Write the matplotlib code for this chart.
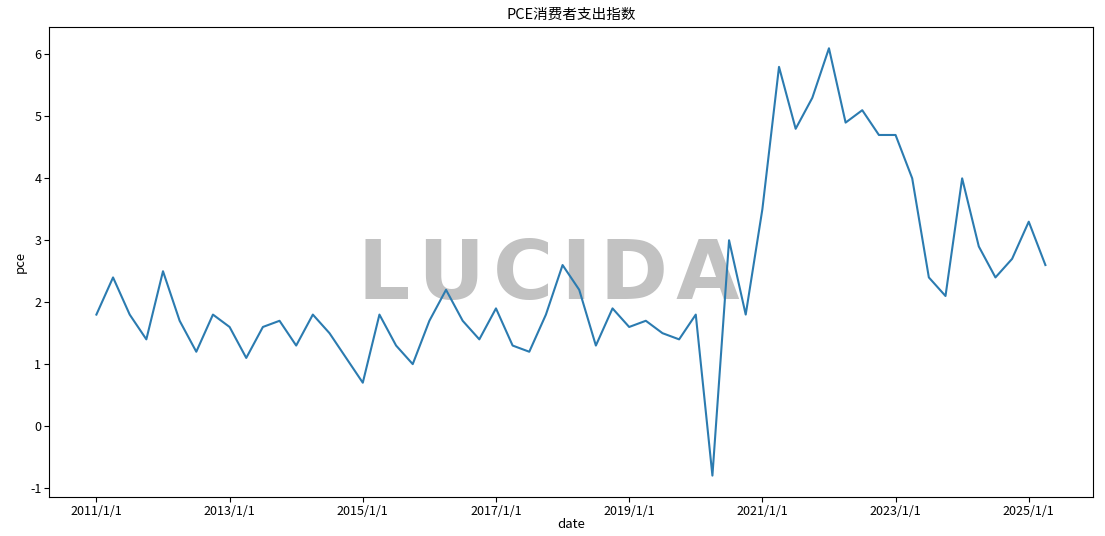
import matplotlib.pyplot as plt
import numpy as np

plt.rcParams['font.family'] = ['Noto Sans CJK SC', 'DejaVu Sans']
plt.rcParams['axes.unicode_minus'] = False

# quarterly PCE values, 2011Q1 .. 2025Q2
pce = [1.8, 2.4, 1.8, 1.4, 2.5, 1.7, 1.2, 1.8,
       1.6, 1.1, 1.6, 1.7, 1.3, 1.8, 1.5, 1.1,
       0.7, 1.8, 1.3, 1.0, 1.7, 2.2, 1.7, 1.4,
       1.9, 1.3, 1.2, 1.8, 2.6, 2.2, 1.3, 1.9,
       1.6, 1.7, 1.5, 1.4, 1.8, -0.8, 3.0, 1.8,
       3.5, 5.8, 4.8, 5.3, 6.1, 4.9, 5.1, 4.7,
       4.7, 4.0, 2.4, 2.1, 4.0, 2.9, 2.4, 2.7,
       3.3, 2.6]
tick_labels = ['2011/1/1', '2013/1/1', '2015/1/1', '2017/1/1',
               '2019/1/1', '2021/1/1', '2023/1/1', '2025/1/1']

x = np.arange(len(pce))

fig = plt.figure(figsize=(11.05, 5.36), dpi=100)
ax = fig.add_axes([0.0443, 0.0728, 0.9447, 0.877])

# watermark, spaced a little so it spans like the original
ax.text(0.479, 0.47, '\u200a'.join('LUCIDA'), transform=ax.transAxes,
        ha='center', va='center', fontsize=59, fontweight='bold',
        color='#c2c2c2', family='DejaVu Sans', zorder=1)
ax.plot(x, pce, color='#2b7bb0', linewidth=1.5, zorder=2)

ax.set_xticks(x[::8])
ax.set_xticklabels(tick_labels)
ax.set_yticks(range(-1, 7))
ax.tick_params(labelsize=9, pad=2)
ax.set_title('PCE消费者支出指数', fontsize=10.5)
ax.set_xlabel('date', fontsize=9.5, labelpad=0)
ax.set_ylabel('pce', fontsize=9.5, labelpad=2)

fig.savefig('out.png', dpi=100)
